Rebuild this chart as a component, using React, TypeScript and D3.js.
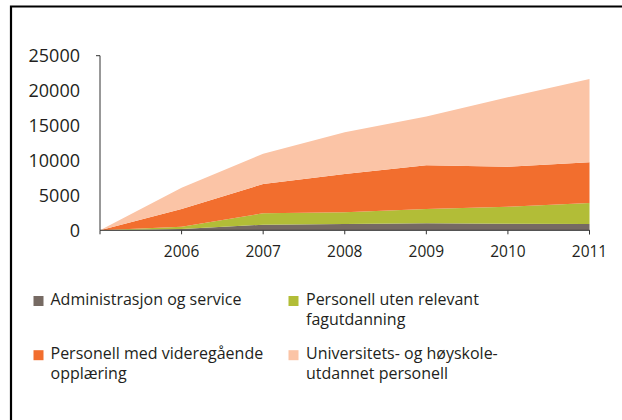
import React from "react";
import * as d3 from "d3";

const years = [2005, 2006, 2007, 2008, 2009, 2010, 2011];
const admin = [0, 200, 800, 900, 1000, 950, 900];
const utenFag = [0, 300, 1630, 1680, 2050, 2430, 3010];
const videregaende = [0, 2550, 4200, 5490, 6260, 5730, 5830];
const universitet = [0, 3050, 4340, 5970, 6970, 9940, 11940];
const seriesNames = [
  ["Administrasjon og service"],
  ["Personell uten relevant", "fagutdanning"],
  ["Personell med videregående", "opplæring"],
  ["Universitets- og høyskole-", "utdannet personell"],
];
const colors = ["#766a63", "#b2bd37", "#f26e2e", "#fbc4a6"];
const yTicks = [0, 5000, 10000, 15000, 20000, 25000];
const xTickYears = [2006, 2007, 2008, 2009, 2010, 2011];

const W = 622;
const H = 420;
const x0 = 100;
const x1 = 589.5;
const y0 = 230.3;
const y1 = 55.7;

export default function App() {
  const x = d3.scaleLinear().domain([2005, 2011]).range([x0, x1]);
  const y = d3.scaleLinear().domain([0, 25000]).range([y0, y1]);
  const keys = ["admin", "uten", "vgs", "uni"];
  const rows = years.map((yr, i) => ({
    year: yr,
    admin: admin[i],
    uten: utenFag[i],
    vgs: videregaende[i],
    uni: universitet[i],
  }));
  const stack = d3.stack<any>().keys(keys)(rows);
  const area = d3
    .area<any>()
    .x((d) => x(d.data.year))
    .y0((d) => y(d[0]))
    .y1((d) => y(d[1]));
  const font = "'Open Sans', 'Liberation Sans', sans-serif";
  const axisColor = "#333";
  const legendPos = [
    { sx: 33.5, tx: 50.5, by: 304.5 },
    { sx: 288.5, tx: 306, by: 304.5 },
    { sx: 33.5, tx: 50.5, by: 358.7 },
    { sx: 288.5, tx: 306, by: 358.7 },
  ];
  return (
    <svg
      width={W}
      height={H}
      style={{ position: "absolute", left: 0, top: 0, background: "#fff" }}
      fontFamily={font}
    >
      <path d={`M11,${H}V6.5H${W}`} fill="none" stroke="#000" strokeWidth={2.2} />
      {stack.map((s, i) => (
        <path key={i} d={area(s) || ""} fill={colors[i]} />
      ))}
      {/* y axis */}
      <path
        d={`M${x0 - 4},${y(25000)}H${x0}V${y0}`}
        fill="none"
        stroke={axisColor}
        strokeWidth={1}
      />
      {yTicks.map((t) => (
        <text
          key={t}
          x={80}
          y={y(t)}
          dy="0.35em"
          textAnchor="end"
          fontSize={18}
          fill="#231f20"
        >
          {t}
        </text>
      ))}
      {/* x axis */}
      <path d={`M${x0},${y0 + 4}V${y0}H${x1}V${y0 + 4}`} fill="none" stroke={axisColor} strokeWidth={1} />
      {xTickYears.map((t) => (
        <g key={t}>
          <line x1={x(t)} x2={x(t)} y1={y0} y2={y0 + 4} stroke={axisColor} strokeWidth={1} />
          <text x={x(t)} y={256.5} textAnchor="middle" fontSize={15.5} fill="#231f20">
            {t}
          </text>
        </g>
      ))}
      {/* legend */}
      {seriesNames.map((lines, i) => {
        const p = legendPos[i];
        return (
          <g key={i}>
            <rect x={p.sx} y={p.by - 8.5} width={10} height={10} fill={colors[i]} />
            {lines.map((ln, j) => (
              <text key={j} x={p.tx} y={p.by + j * 20.5} fontSize={16} fill="#231f20">
                {ln}
              </text>
            ))}
          </g>
        );
      })}
    </svg>
  );
}
